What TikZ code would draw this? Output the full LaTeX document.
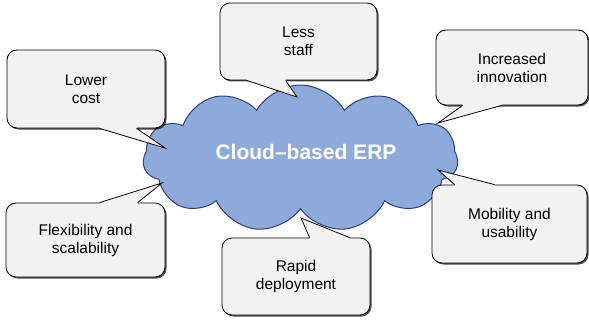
\documentclass[tikz,border=0pt]{standalone}
\usepackage{fontspec}
\setmainfont{Liberation Sans}
\usetikzlibrary{shapes.symbols,shadows,calc}
\definecolor{cloudfill}{RGB}{142,170,219}
\definecolor{clouddraw}{RGB}{47,62,125}
\definecolor{callfill}{RGB}{242,242,242}
\begin{document}
\begin{tikzpicture}[x=1pt,y=-1pt,
  box/.style={rectangle, rounded corners=10pt, draw=black, line width=0.8pt, fill=callfill,
    align=center, inner sep=0pt, font=\fontsize{15.5}{18}\selectfont,
    drop shadow={shadow xshift=1.5pt, shadow yshift=-1.5pt, fill=black, opacity=0.7}},
  ptr/.style={draw=black, line width=0.8pt, line join=miter},
  cloudbox/.style={cloud, cloud puffs=11, cloud puff arc=120, cloud ignores aspect,
    draw=clouddraw, fill=cloudfill, line width=1pt, inner sep=0pt},
  cloudtext/.style={font=\fontsize{21}{25}\selectfont\bfseries, text=white}
]
\useasboundingbox (0,0) rectangle (589,321);
\node[cloudbox, minimum width=315pt, minimum height=147pt] (erp) at (300.5,158.5) {};
\node[cloudtext] (erptxt) at (306,152) {Cloud–based ERP};

\node[box, minimum width=158pt, minimum height=78pt] (lc) at (86,89) {Lower\\cost};
\node[box, minimum width=157pt, minimum height=77pt] (ls) at (298.5,41.5) {Less\\staff};
\node[box, minimum width=152pt, minimum height=75pt] (ii) at (512,67.5) {Increased\\innovation};
\node[box, minimum width=159pt, minimum height=74pt] (fs) at (85.5,240) {Flexibility and\\scalability};
\node[box, minimum width=148pt, minimum height=77pt] (rd) at (296,276.5) {Rapid\\deployment};
\node[box, minimum width=155pt, minimum height=78pt] (mu) at (509.5,224) {Mobility and\\usability};

\coordinate (tlc) at (165,148);
\coordinate (tls) at (297,97);
\coordinate (tii) at (438,123);
\coordinate (tfs) at (162,183);
\coordinate (trd) at (301,218);
\coordinate (tmu) at (438,170);

% pointers on bottom edges
\fill[callfill] ($(lc.south west)+(93,-3)$) -- ($(lc.south west)+(93,0)$) -- (tlc) -- ($(lc.south west)+(130,0)$) -- ($(lc.south west)+(130,-3)$) -- cycle;
\draw[ptr] ($(lc.south west)+(93,0)$) -- (tlc) -- ($(lc.south west)+(130,0)$);

\fill[callfill] ($(ls.south west)+(27,-3)$) -- ($(ls.south west)+(27,0)$) -- (tls) -- ($(ls.south west)+(66,0)$) -- ($(ls.south west)+(66,-3)$) -- cycle;
\draw[ptr] ($(ls.south west)+(27,0)$) -- (tls) -- ($(ls.south west)+(66,0)$);

\fill[callfill] ($(ii.south west)+(27,-3)$) -- ($(ii.south west)+(27,0)$) -- (tii) -- ($(ii.south west)+(66,0)$) -- ($(ii.south west)+(66,-3)$) -- cycle;
\draw[ptr] ($(ii.south west)+(27,0)$) -- (tii) -- ($(ii.south west)+(66,0)$);

% pointers on top edges
\fill[callfill] ($(fs.north west)+(94,3)$) -- ($(fs.north west)+(94,0)$) -- (tfs) -- ($(fs.north west)+(132,0)$) -- ($(fs.north west)+(132,3)$) -- cycle;
\draw[ptr] ($(fs.north west)+(94,0)$) -- (tfs) -- ($(fs.north west)+(132,0)$);

\fill[callfill] ($(rd.north west)+(88,3)$) -- ($(rd.north west)+(88,0)$) -- (trd) -- ($(rd.north west)+(128,0)$) -- ($(rd.north west)+(128,3)$) -- cycle;
\draw[ptr] ($(rd.north west)+(88,0)$) -- (trd) -- ($(rd.north west)+(128,0)$);

\fill[callfill] ($(mu.north west)+(23,3)$) -- ($(mu.north west)+(23,0)$) -- (tmu) -- ($(mu.north west)+(63,0)$) -- ($(mu.north west)+(63,3)$) -- cycle;
\draw[ptr] ($(mu.north west)+(23,0)$) -- (tmu) -- ($(mu.north west)+(63,0)$);
\end{tikzpicture}
\end{document}
